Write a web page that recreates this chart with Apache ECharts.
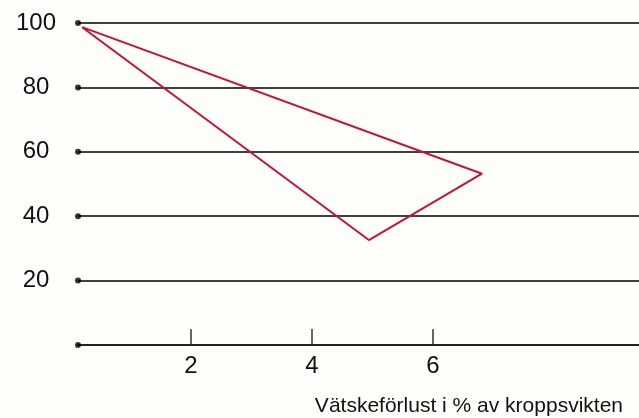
<!DOCTYPE html>
<html>
<head>
<meta charset="utf-8">
<script src="https://cdn.jsdelivr.net/npm/echarts@6/dist/echarts.min.js"></script>
<style>
html,body{margin:0;padding:0;background:#FEFEFA;}
#c{width:639px;height:418px;}
</style>
</head>
<body>
<div id="c"></div>
<script>
// Data
var xTicks = [2, 4, 6];
var yTicks = [0, 20, 40, 60, 80, 100];
var xMin = 0.132, xMax = 9.405;
var lossX = [0.2, 6.81, 4.94, 0.2];
var perfY = [98.7, 53.2, 32.6, 98.7];
var xTitle = 'Vätskeförlust i % av kroppsvikten';

var lineData = lossX.map(function (x, i) { return [x, perfY[i]]; });
var dotData = yTicks.map(function (v) { return [xMin, v]; });

var FONT = 'Liberation Sans, Arial, sans-serif';
var chart = echarts.init(document.getElementById('c'), null, {renderer: 'canvas'});
chart.setOption({
  backgroundColor: '#FEFEFA',
  animation: false,
  textStyle: {fontFamily: FONT},
  title: {
    text: xTitle,
    right: 16,
    bottom: 1,
    padding: 0,
    textStyle: {fontSize: 21, fontWeight: 'normal', color: '#111', fontFamily: FONT}
  },
  grid: {left: 78, right: 0, top: 23, bottom: 73},
  xAxis: {
    type: 'value',
    min: xMin,
    max: xMax,
    splitLine: {show: false},
    axisLine: {show: true, lineStyle: {color: '#222', width: 2}},
    axisTick: {show: true, inside: true, length: 16, customValues: xTicks, lineStyle: {color: '#333', width: 1.5}},
    axisLabel: {show: true, customValues: xTicks, fontSize: 24, color: '#111', margin: 9, fontFamily: FONT}
  },
  yAxis: {
    type: 'value',
    min: 0,
    max: 100,
    interval: 20,
    axisLine: {show: false},
    axisTick: {show: false},
    splitLine: {show: true, lineStyle: {color: '#000', width: 1.5}},
    axisLabel: {
      fontSize: 24, color: '#111', align: 'center', margin: 42, fontFamily: FONT,
      formatter: function (v) { return v === 0 ? '' : String(v); }
    }
  },
  series: [
    {
      type: 'scatter',
      data: dotData,
      symbol: 'circle',
      symbolSize: 6,
      clip: false,
      itemStyle: {color: '#000'},
      silent: true
    },
    {
      type: 'line',
      data: lineData,
      showSymbol: false,
      symbol: 'none',
      clip: false,
      lineStyle: {color: '#C8103A', width: 2},
      silent: true
    }
  ]
});
</script>
</body>
</html>
